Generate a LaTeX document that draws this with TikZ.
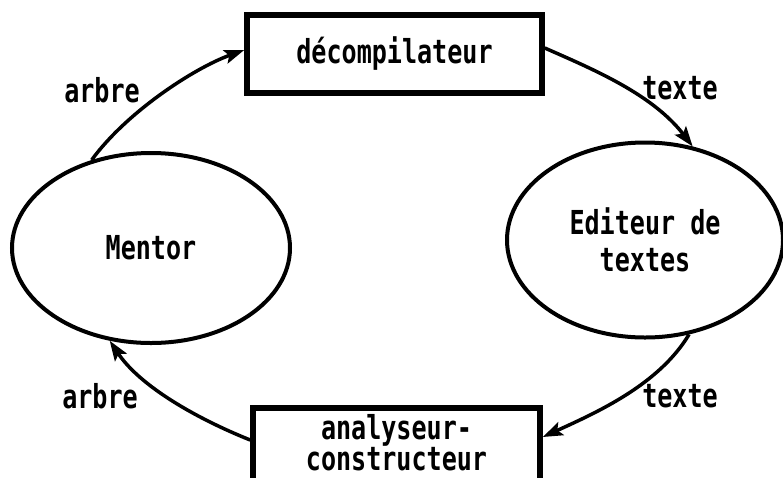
\documentclass[tikz,border=0pt]{standalone}
\usepackage{fontspec}
\setmainfont{DejaVu Sans Mono}[FakeStretch=0.76]
\usetikzlibrary{shapes.geometric,arrows.meta}
\begin{document}
\begin{tikzpicture}[x=1pt,y=-1pt,
  every node/.style={font=\fontsize{33}{27}\selectfont\bfseries},
  procbox/.style={draw,line width=5.5pt,rectangle,inner sep=0pt},
  proc/.style={draw,line width=4pt,ellipse,inner sep=0pt,align=center},
  flow/.style={line width=3.5pt,-{Stealth[length=20pt,width=14pt,inset=4pt]}},
  lab/.style={inner sep=0pt}]
\useasboundingbox (0,0) rectangle (783,477);
\node[procbox,minimum width=295pt,minimum height=78pt] (dec) at (394.5,54) {décompilateur};
\node[proc,minimum width=278pt,minimum height=190pt] (men) at (151,248) {Mentor};
\node[proc,minimum width=276pt,minimum height=195pt,font=\fontsize{33}{37}\selectfont\bfseries] (edi) at (645,240)
  {Editeur de\\textes};
\node[procbox,minimum width=287pt,minimum height=96pt,anchor=north,align=center] (ana) at (396.5,405)
  {analyseur-\\constructeur\\\mbox{}};
\coordinate (anaE) at (ana.east |- 0,437);
\coordinate (anaW) at (ana.west |- 0,440);
\draw[flow] (men.124) .. controls +(35,-48) and +(-50,18) .. ([yshift=4pt]dec.west);
\draw[flow] ([yshift=6pt]dec.east) .. controls +(50,22) and +(-40,-52) .. (edi.63);
\draw[flow] (edi.-65) .. controls +(-30,50) and +(55,-25) .. (anaE);
\draw[flow] (anaW) .. controls +(-55,-22) and +(30,45) .. (men.246);
\node[lab] (l1) at (102,90) {arbre};
\node[lab] (l2) at (680,88) {texte};
\node[lab] (l3) at (680,396) {texte};
\node[lab] (l4) at (100,396) {arbre};
\end{tikzpicture}
\end{document}
